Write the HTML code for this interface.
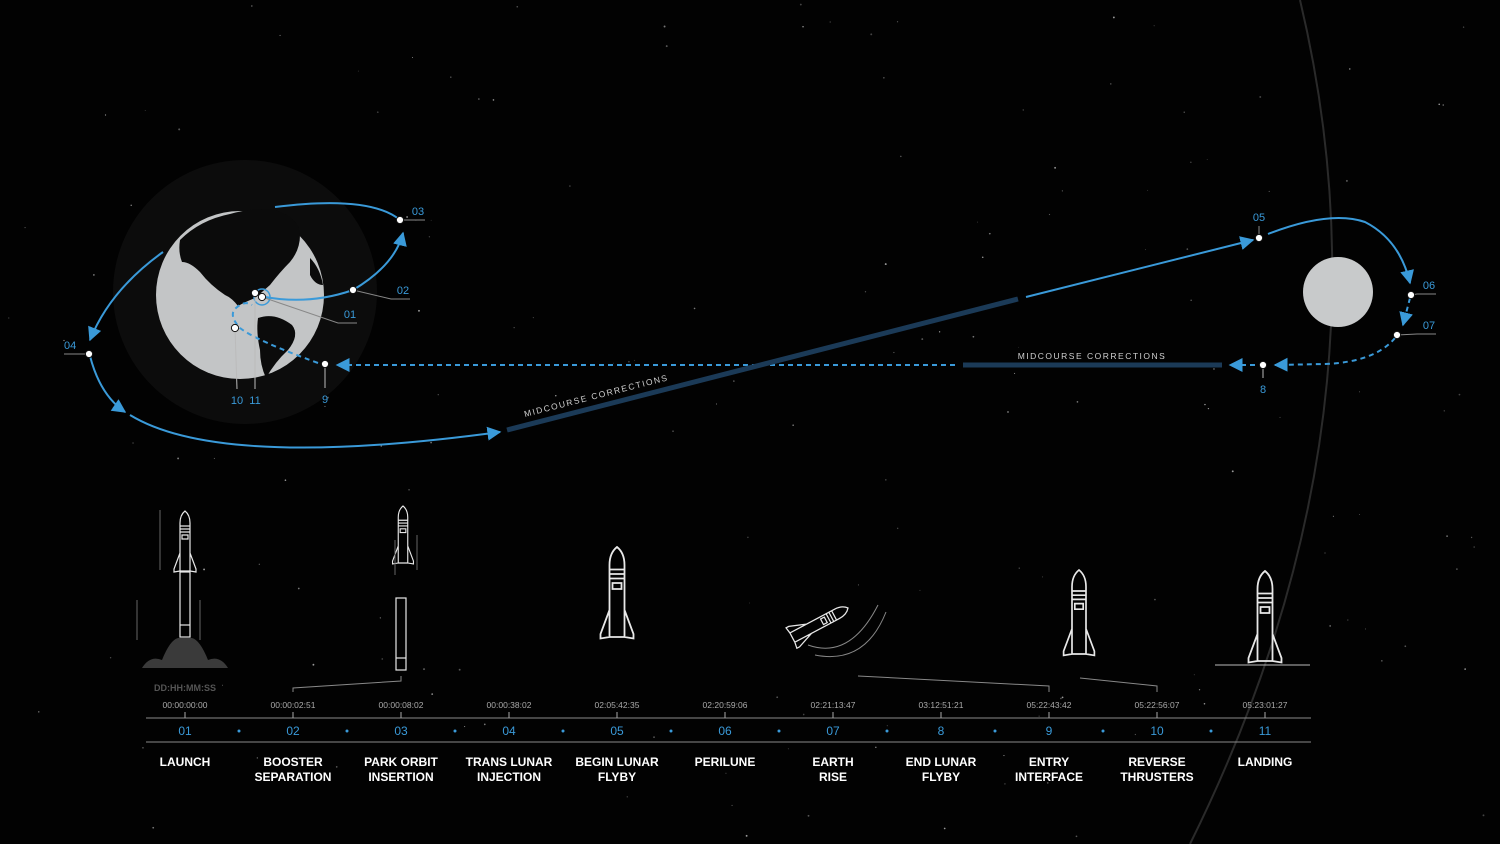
<!DOCTYPE html>
<html><head><meta charset="utf-8"><style>
html,body{margin:0;padding:0;background:#000;}
svg{display:block;font-family:"Liberation Sans",sans-serif;}
</style></head><body>
<svg id="c" width="1500" height="844" viewBox="0 0 1500 844" xmlns="http://www.w3.org/2000/svg">
<rect width="1500" height="844" fill="#020202"/>
<g id="stars"></g>
<path d="M1300,0 Q1400,420 1190,844" fill="none" stroke="#2a2a2a" stroke-width="2"/>
<circle cx="245" cy="292" r="132" fill="#0c0c0c"/>
<g>
<circle cx="240" cy="295" r="84" fill="#c3c5c6"/>
<path d="M180,240 Q200,220 230,214 Q255,207 275,210 Q300,218 300,235 Q300,250 290,262 Q280,272 270,285 Q262,292 255,298 Q245,302 238,306 Q232,298 225,295 Q210,285 200,272 Q190,262 182,262 Q178,252 180,240 Z" fill="#0b0b0b"/>
<path d="M258,318 Q275,312 292,325 Q300,335 288,350 Q275,362 266,378 Q260,365 260,350 Q256,332 258,318 Z" fill="#0b0b0b"/>
<path d="M310,258 Q320,268 323,285 Q315,285 310,275 Z" fill="#0b0b0b"/>
</g>
<circle cx="1338" cy="292" r="35" fill="#c8cacb"/>
<defs>
<marker id="ar" viewBox="0 0 10 10" refX="9" refY="5" markerWidth="7" markerHeight="7" orient="auto-start-reverse"><path d="M0,0 L10,5 L0,10 Z" fill="#3a9ad9"/></marker>
</defs>
<g fill="none" stroke="#3a9ad9" stroke-width="2">
<path d="M265,297 Q310,305 353,290" />
<path d="M353,290 Q395,265 403,233" marker-end="url(#ar)"/>
<path d="M400,220 Q370,195 275,207"/>
<path d="M163,252 Q110,290 90,340" marker-end="url(#ar)"/>
<path d="M90,356 Q100,395 125,412" marker-end="url(#ar)"/>
<path d="M130,415 Q220,470 500,432" marker-end="url(#ar)"/>
<path d="M1026,297 L1253,240" marker-end="url(#ar)"/>
<path d="M1268,234 Q1330,210 1365,222 Q1400,240 1410,283" marker-end="url(#ar)"/>
<g stroke-dasharray="5,4">
<path d="M1410,298 L1403,325" marker-end="url(#ar)"/>
<path d="M1395,338 Q1375,362 1325,364 L1275,365" marker-end="url(#ar)"/>
<path d="M1255,365 L1230,365" marker-end="url(#ar)"/>
<path d="M955,365 L337,365" marker-end="url(#ar)"/>
<path d="M318,363 Q255,340 240,328 Q228,315 236,308 Q245,300 252,305" />
</g>
<circle cx="262" cy="297" r="8" stroke-width="1.5"/>
</g>
<path d="M507,430 L1018,299" stroke="#1b3a57" stroke-width="5"/>
<path d="M963,365 L1222,365" stroke="#1b3a57" stroke-width="5"/>
<text x="525" y="417" fill="#cfcfcf" font-size="8.5" letter-spacing="1.5" transform="rotate(-14.4 525 417)">MIDCOURSE CORRECTIONS</text>
<text x="1092" y="359" fill="#cfcfcf" font-size="8.5" letter-spacing="1.5" text-anchor="middle">MIDCOURSE CORRECTIONS</text>
<g id="markers"></g>
<g id="ships" fill="none" stroke="#e8e8e8" stroke-width="1.2"></g>
<g id="timeline"></g>
</svg>
<script>
const NS="http://www.w3.org/2000/svg";
const svg=document.getElementById('c');
function mk(tag,attrs,parent){const e=document.createElementNS(NS,tag);for(const k in attrs)e.setAttribute(k,attrs[k]);parent.appendChild(e);return e;}
let s=12345;function rnd(){s=(s*1103515245+12345)%2147483648;return s/2147483648;}
const sg=document.getElementById('stars');
for(let i=0;i<170;i++){const c=mk('circle',{cx:rnd()*1500,cy:rnd()*844,r:(rnd()*0.6+0.4).toFixed(2),fill:'#'+['444','555','777','999'][Math.floor(rnd()*4)]},sg);

}
const markerLabels=["01","02","03","04","05","06","07","8","9","10","11"];
const markerPts=[[262,297,350,314,"r"],[353,290,403,290,"r"],[400,220,418,211,"r"],[89,354,70,345,"l"],[1259,238,1259,217,"u"],[1411,295,1429,285,"r"],[1397,335,1429,325,"r"],[1263,365,1263,389,"d"],[325,364,325,399,"d"],[235,328,237,400,"d"],[255,293,255,400,"d"]];
const mg=document.getElementById('markers');
markerPts.forEach((p,i)=>{
 const [x,y,tx,ty,dir]=p;
 let l;
 if(dir=="r")l=mk('path',{d:`M${x},${y} L${tx-12},${ty+9} L${tx+7},${ty+9}`,stroke:'#888',fill:'none','stroke-width':1},mg);
 else if(dir=="l")l=mk('path',{d:`M${x},${y} L${x-25},${y}`,stroke:'#888','stroke-width':1},mg);
 else if(dir=="u")l=mk('path',{d:`M${x},${y} L${x},${y-12}`,stroke:'#888','stroke-width':1},mg);
 else l=mk('path',{d:`M${x},${y} L${tx},${ty-11}`,stroke:'#bbb','stroke-width':1},mg);
 
 
 const c=mk('circle',{cx:x,cy:y,r:3.6,fill:'#fff',stroke:'#111','stroke-width':1},mg);
 
 
 const t=mk('text',{x:tx,y:ty+4,fill:'#3a9ad9','font-size':11,'text-anchor':(dir=="l"?'start':'middle')},mg);
 if(dir=="l")t.setAttribute('x',tx-6);
 t.textContent=markerLabels[i];
 
 
});
const stepNumbers=["01","02","03","04","05","06","07","8","9","10","11"];
const stepTimes=["00:00:00:00","00:00:02:51","00:00:08:02","00:00:38:02","02:05:42:35","02:20:59:06","02:21:13:47","03:12:51:21","05:22:43:42","05:22:56:07","05:23:01:27"];
const stepLabels=[["LAUNCH"],["BOOSTER","SEPARATION"],["PARK ORBIT","INSERTION"],["TRANS LUNAR","INJECTION"],["BEGIN LUNAR","FLYBY"],["PERILUNE"],["EARTH","RISE"],["END LUNAR","FLYBY"],["ENTRY","INTERFACE"],["REVERSE","THRUSTERS"],["LANDING"]];
const X0=185,DX=108;
function sx(i){return X0+i*DX;}
const tg=document.getElementById('timeline');
let e;
e=mk('line',{x1:146,x2:1311,y1:718,y2:718,stroke:'#8a8a8a','stroke-width':1},tg);

e=mk('line',{x1:146,x2:1311,y1:742,y2:742,stroke:'#8a8a8a','stroke-width':1},tg);

e=mk('text',{x:185,y:691,fill:'#555','font-size':9,'font-weight':'bold','text-anchor':'middle'},tg);e.textContent="DD:HH:MM:SS";

stepNumbers.forEach((n,i)=>{
 const x=sx(i);
 let t=mk('text',{x:x,y:708,fill:'#aaa','font-size':8.5,'text-anchor':'middle'},tg);t.textContent=stepTimes[i];
 
 let k=mk('line',{x1:x,x2:x,y1:712,y2:718,stroke:'#aaa','stroke-width':1},tg);
 
 t=mk('text',{x:x,y:735,fill:'#3a9ad9','font-size':12,'text-anchor':'middle'},tg);t.textContent=n;
 
 if(i<stepNumbers.length-1){const d=mk('circle',{cx:x+DX/2,cy:731,r:1.5,fill:'#3a9ad9'},tg);
 }
 stepLabels[i].forEach((ln,j)=>{const l=mk('text',{x:x,y:766+j*15,fill:'#fff','font-size':12,'font-weight':'bold','text-anchor':'middle'},tg);l.textContent=ln;
 });
});
[[`M293,692 L293,688 L401,681 L401,676`],[`M858,676 L1049,686 L1049,692`],[`M1080,678 L1157,686 L1157,692`]].forEach(d=>{const p=mk('path',{d:d[0],stroke:'#888',fill:'none','stroke-width':1},tg);
});
const shg=document.getElementById('ships');
function ship(x,y,sc,rot){
 const g=mk('g',{transform:`translate(${x},${y}) rotate(${rot||0}) scale(${sc})`},shg);
 
 mk('path',{d:"M-5,12 Q-5,4 0,0 Q5,4 5,12 M-5,12 L-5,60 M5,12 L5,60 M-5,60 L5,60 M-5,42 L-11,58 L-11,61 L-5,60 M5,42 L11,58 L11,61 L5,60 M-5,15 L5,15 M-5,18 L5,18 M-5,21 L5,21 M-3,24 L3,24 L3,28 L-3,28 Z"},g);
 return g;
}
function booster(x,y,h){const g=mk('g',{},shg);
 
 mk('rect',{x:x-5,y:y,width:10,height:h},g);mk('line',{x1:x-5,x2:x+5,y1:y+h-12,y2:y+h-12},g);}
ship(185,511,1,0);booster(185,572,65);
const pl=mk('path',{d:"M142,668 Q150,655 162,660 Q170,640 178,638 L192,638 Q200,640 208,660 Q220,655 228,668 Z",fill:'#3a3a3a',stroke:'none'},shg);

ship(403,506,0.95,0);booster(401,598,72);
ship(617,547,1.5,0);
ship(848,608,1.05,62);
ship(1079,570,1.4,0);
ship(1265,571,1.5,0);
const gr=mk('line',{x1:1215,x2:1310,y1:665,y2:665,stroke:'#bbb','stroke-width':1},shg);

[[160,510,160,570],[137,600,137,640],[200,600,200,640],[395,540,395,575],[417,535,417,570]].forEach(a=>{const l=mk('line',{x1:a[0],y1:a[1],x2:a[2],y2:a[3],stroke:'#666','stroke-width':1},shg);
});
const arcs=mk('path',{d:"M808,645 Q850,660 878,605 M815,655 Q865,665 886,612",stroke:'#888',fill:'none','stroke-width':1},shg);

</script>
</body></html>
